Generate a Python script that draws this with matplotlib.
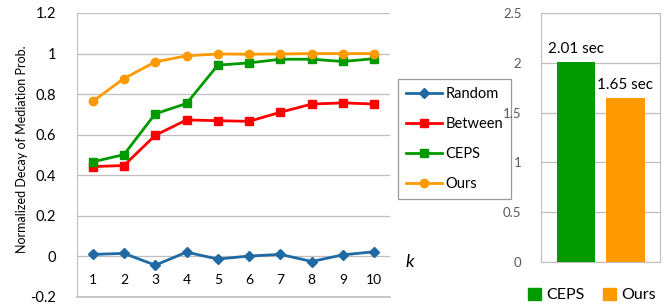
import matplotlib
matplotlib.use("Agg")
import matplotlib.pyplot as plt

plt.rcParams['font.family'] = ['Lato', 'DejaVu Sans']

k = [1, 2, 3, 4, 5, 6, 7, 8, 9, 10]
random_vals = [0.010, 0.015, -0.043, 0.021, -0.013, 0.002, 0.010, -0.025, 0.008, 0.023]
between_vals = [0.443, 0.448, 0.597, 0.673, 0.669, 0.666, 0.711, 0.751, 0.757, 0.751]
ceps_vals = [0.466, 0.502, 0.703, 0.754, 0.943, 0.954, 0.972, 0.972, 0.961, 0.975]
ours_vals = [0.764, 0.877, 0.959, 0.989, 0.998, 0.997, 0.998, 1.0, 1.0, 1.0]

bar_names = ["CEPS", "Ours"]
bar_times = [2.01, 1.65]
bar_labels = ["2.01 sec", "1.65 sec"]

blue = "#1f6aa5"
red = "#ff0000"
green = "#009900"
orange = "#ff9900"
grid_c = "#bfbfbf"

fig = plt.figure(figsize=(6.67, 3.05), dpi=100)

# left: line chart
ax = fig.add_axes([77/667, 8/305, 313/667, 284/305])
ax.plot(k, random_vals, color=blue, marker="D", ms=5, lw=2, label="Random")
ax.plot(k, between_vals, color=red, marker="s", ms=5.5, lw=2, label="Between")
ax.plot(k, ceps_vals, color=green, marker="s", ms=5.5, lw=2, label="CEPS")
ax.plot(k, ours_vals, color=orange, marker="o", ms=6, lw=2, label="Ours")
ax.set_xlim(0.5, 10.5)
ax.set_ylim(-0.2, 1.2)
ax.set_yticks([-0.2, 0, 0.2, 0.4, 0.6, 0.8, 1.0, 1.2])
ax.set_yticklabels(["-0.2", "0", "0.2", "0.4", "0.6", "0.8", "1", "1.2"], fontsize=10.5)
ax.set_xticks(k)
ax.set_xticklabels([str(v) for v in k], fontsize=12)
ax.spines['bottom'].set_position(('data', 0))
ax.spines['bottom'].set_visible(False)
for s in ['top', 'right']:
    ax.spines[s].set_visible(False)
ax.spines['left'].set_color(grid_c)
ax.tick_params(axis='x', length=0, pad=13)
ax.tick_params(axis='y', length=0, pad=15)
ax.grid(axis='y', color=grid_c, lw=0.9)
ax.axhline(-0.2, color=grid_c, lw=1.2, clip_on=False)
ax.set_axisbelow(True)
ax.set_ylabel("Normalized Decay of Mediation Prob.", fontsize=9)
ax.yaxis.set_label_coords(-0.157, 0.52)
fig.text(410/667, 1 - 262/305, "k", fontsize=13, style='italic', ha='center', va='center')

leg = ax.legend(loc='upper left', bbox_to_anchor=(398/667, 1 - 79/305), bbox_transform=fig.transFigure,
                frameon=True, fancybox=False, fontsize=10.5, handlelength=2.5, labelspacing=1.1,
                borderpad=0.55, handletextpad=0.2, borderaxespad=0)
leg.get_frame().set_edgecolor("#808080")
leg.get_frame().set_linewidth(0.9)

# right: bar chart
bx = fig.add_axes([541/667, 43/305, 119/667, 249/305])
x = [0, 1]
bx.bar(x, bar_times, width=0.77, color=[green, orange], zorder=3)
bx.set_xlim(-0.707, 1.697)
bx.set_ylim(0, 2.5)
bx.set_yticks([0, 0.5, 1, 1.5, 2, 2.5])
bx.set_yticklabels(["0", "0.5", "1", "1.5", "2", "2.5"], fontsize=9.5, color="#595959")
bx.set_xticks([])
bx.tick_params(axis='y', length=0, pad=14)
bx.grid(axis='y', color=grid_c, lw=0.9)
for s in bx.spines.values():
    s.set_color(grid_c)
for xi, v, lab in zip(x, bar_times, bar_labels):
    bx.text(xi, v + 0.06, lab, ha='center', va='bottom', fontsize=11)

handles = [plt.Rectangle((0, 0), 1, 1, color=c) for c in [green, orange]]
fig.legend(handles, bar_names, loc='center', bbox_to_anchor=(592/667, 1 - 295/305), ncol=2,
           frameon=False, fontsize=11.5, handlelength=0.8, handleheight=0.8,
           handletextpad=0.3, columnspacing=1.2)

fig.savefig("out.png", dpi=100)
